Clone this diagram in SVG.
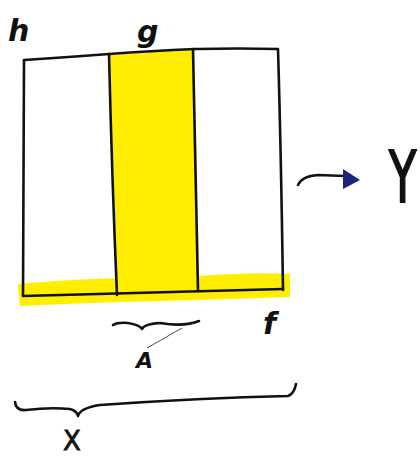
<svg xmlns="http://www.w3.org/2000/svg" width="420" height="460" viewBox="0 0 420 460">
<style>
.ink{fill:none;stroke:#111;stroke-width:2.6;stroke-linecap:round;stroke-linejoin:round}
.thin{fill:none;stroke:#333;stroke-width:0.9}
.lbl{font-family:"DejaVu Sans","Liberation Sans",sans-serif;fill:#111}
.hl{fill:#ffee00}
</style>
<rect width="420" height="460" fill="#fff"/>
<g id="highlight">
<path class="hl" d="M110,55 L193,49 L199,282 L117,286 Z"/>
<path class="hl" d="M18,284 Q60,280 117,278 L199,276 Q250,272 290,274 L290,297 Q200,300 120,302 Q60,304 20,306 Z"/>
</g>
<g id="box">
<path class="ink" d="M24,60 Q70,57 109,54 Q150,51 195,49 Q240,48 278,49 Q281,150 283,290"/>
<path class="ink" d="M24,60 Q23,180 23,296 Q150,292 283,289"/>
<path class="ink" d="M109,54 Q112,180 117,295"/>
<path class="ink" d="M193,49 Q196,170 198,291"/>
</g>
<g id="labels">
<text class="lbl" x="8" y="41" font-size="30" font-style="italic" font-weight="bold">h</text>
<text class="lbl" x="137" y="42" font-size="30" font-style="italic" font-weight="bold">g</text>
<text class="lbl" x="263" y="334" font-size="30" font-style="italic" font-weight="bold">f</text>
<text class="lbl" transform="translate(389,202) scale(0.62,1)" font-size="72" stroke="#111" stroke-width="2">Y</text>
<text class="lbl" x="136" y="368" font-size="22" font-weight="bold" font-style="italic">A</text>
<text class="lbl" x="63" y="450" font-size="26" stroke="#111" stroke-width="0.8">X</text>
</g>
<g id="connectors">
<path class="ink" d="M298,185 Q302,176 318,175 L345,176"/>
<path d="M343,169 L360,180 L343,189 Z" fill="#1a237e"/>
<path class="ink" d="M113,325 Q118,322 128,323 Q140,325 142,329 Q144,324 160,323 Q185,327 199,321"/>
<line class="thin" x1="182" y1="328" x2="147" y2="348"/>
<path class="ink" d="M15,402 Q16,411 26,410 Q50,407 70,409 Q77,411 78,416 Q80,408 100,405 Q200,398 288,396 Q294,394 296,384"/>
</g>
</svg>
